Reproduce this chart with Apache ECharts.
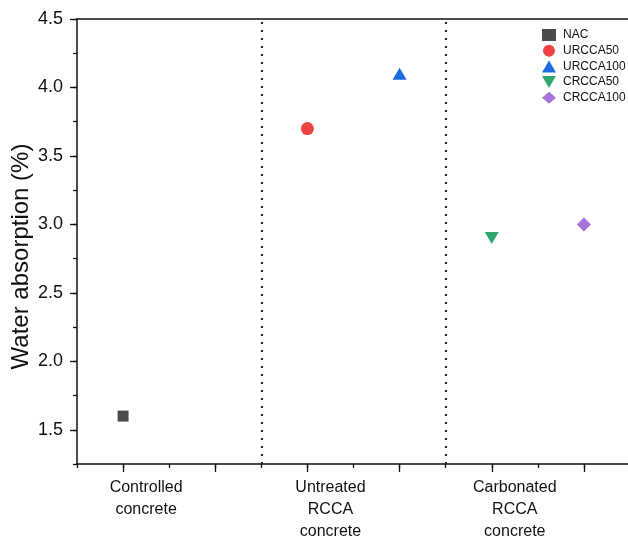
<!DOCTYPE html>
<html>
<head>
<meta charset="utf-8">
<script src="https://cdn.jsdelivr.net/npm/echarts@6/dist/echarts.min.js"></script>
<style>
  html, body { margin: 0; padding: 0; background: #ffffff; }
  #chart { width: 628px; height: 536px; }
</style>
</head>
<body>
<div id="chart"></div>
<script>
// Mix designs and their water absorption
const seriesNames = ['NAC', 'URCCA50', 'URCCA100', 'CRCCA50', 'CRCCA100'];
const xPositions = [1, 5, 7, 9, 11];
const waterAbsorption = [1.6, 3.7, 4.1, 2.9, 3.0];
const seriesColors = ['#4b4b4b', '#ef4242', '#1c6de0', '#2fa86b', '#a672dc'];
const seriesSymbols = [
  'rect',
  'circle',
  'triangle',
  'path://M0,0 L10,0 L5,8.66 Z',
  'diamond'
];
const symbolSizes = [11, 13, [14, 12], [14, 12], 14];

// Concrete groups along the x axis
const groupLabels = ['Controlled\nconcrete', 'Untreated\nRCCA\nconcrete', 'Carbonated\nRCCA\nconcrete'];
const groupLabelPositions = [1.5, 5.5, 9.5];
const groupSeparators = [4, 8];
const majorXTicks = [1, 3, 5, 7, 9, 11];

// Y axis ticks
const yMajorTicks = [1.5, 2.0, 2.5, 3.0, 3.5, 4.0, 4.5];

const chart = echarts.init(document.getElementById('chart'), null, { renderer: 'canvas' });

const axisColor = '#111111';
const FONT = 'Liberation Sans, Arial, sans-serif';

const series = seriesNames.map((name, i) => ({
  name: name,
  type: 'scatter',
  xAxisIndex: 0,
  yAxisIndex: 0,
  symbol: seriesSymbols[i],
  symbolSize: symbolSizes[i],
  itemStyle: { color: seriesColors[i], opacity: 1 },
  data: [[xPositions[i], waterAbsorption[i]]],
  z: 5
}));

// Dotted separators between the concrete groups
series[0].markLine = {
  silent: true,
  symbol: ['none', 'none'],
  label: { show: false },
  lineStyle: { color: '#222222', type: [2, 6], width: 2 },
  data: groupSeparators.map(v => ({ xAxis: v }))
};

const option = {
  backgroundColor: '#ffffff',
  animation: false,
  grid: { left: 77, top: 19, width: 553, height: 445, containLabel: false, outerBoundsMode: 'none' },
  legend: {
    orient: 'vertical',
    left: 537,
    top: 24,
    itemWidth: 14,
    itemHeight: 12,
    itemGap: 3.7,
    textStyle: { fontFamily: FONT, fontSize: 12, color: '#111111', padding: [0, 0, 0, 2] },
    data: seriesNames.map((n, i) => ({ name: n, icon: seriesSymbols[i], itemStyle: { color: seriesColors[i] } }))
  },
  xAxis: [
    {
      type: 'value',
      position: 'bottom',
      min: 0,
      max: 12,
      interval: 1,
      axisLine: { show: true, onZero: false, lineStyle: { color: axisColor, width: 1.5 } },
      axisTick: { show: true, inside: false, length: 4, lineStyle: { color: axisColor, width: 1.3 } },
      axisLabel: {
        show: true,
        customValues: groupLabelPositions,
        margin: 13,
        fontFamily: FONT,
        fontSize: 16,
        lineHeight: 22,
        color: '#111111',
        formatter: (v) => {
          const k = groupLabelPositions.indexOf(v);
          return k >= 0 ? groupLabels[k] : '';
        }
      },
      splitLine: { show: false }
    },
    {
      type: 'value',
      position: 'bottom',
      min: 0,
      max: 12,
      interval: 1,
      axisLine: { show: false, onZero: false },
      axisTick: { show: true, customValues: majorXTicks, length: 8, lineStyle: { color: axisColor, width: 1.3 } },
      axisLabel: { show: false },
      splitLine: { show: false }
    },
    {
      type: 'value',
      position: 'top',
      min: 0,
      max: 12,
      axisLine: { show: true, onZero: false, lineStyle: { color: axisColor, width: 1.5 } },
      axisTick: { show: false },
      axisLabel: { show: false },
      splitLine: { show: false }
    }
  ],
  yAxis: [
    {
      type: 'value',
      position: 'left',
      min: 1.25,
      max: 4.5,
      interval: 0.25,
      name: 'Water absorption (%)',
      nameLocation: 'middle',
      nameGap: 44,
      nameMoveOverlap: false,
      nameTextStyle: { fontFamily: FONT, fontSize: 24, color: '#111111', padding: [0, 30, 0, 0] },
      axisLine: { show: true, onZero: false, lineStyle: { color: axisColor, width: 1.5 } },
      axisTick: { show: true, length: 4, lineStyle: { color: axisColor, width: 1.3 } },
      axisLabel: {
        show: true,
        customValues: yMajorTicks,
        margin: 14,
        fontFamily: FONT,
        fontSize: 18,
        color: '#111111',
        formatter: (v) => Number(v).toFixed(1)
      },
      splitLine: { show: false }
    },
    {
      type: 'value',
      position: 'left',
      min: 1.25,
      max: 4.5,
      interval: 0.25,
      axisLine: { show: false, onZero: false },
      axisTick: { show: true, customValues: yMajorTicks, length: 7, lineStyle: { color: axisColor, width: 1.3 } },
      axisLabel: { show: false },
      splitLine: { show: false }
    }
  ],
  series: series
};

chart.setOption(option);
</script>
</body>
</html>
